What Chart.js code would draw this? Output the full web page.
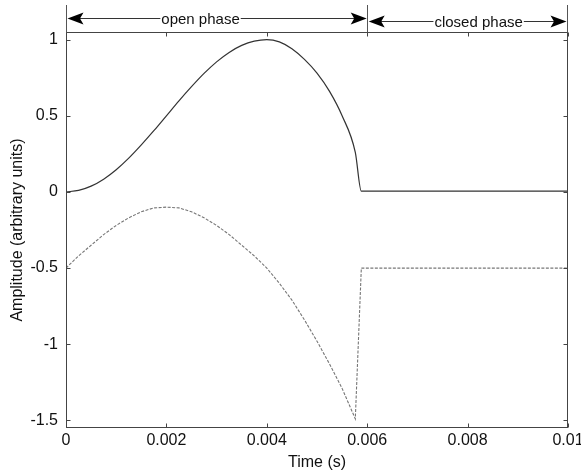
<!DOCTYPE html>
<html>
<head>
<meta charset="utf-8">
<script src="https://cdn.jsdelivr.net/npm/chart.js@4/dist/chart.umd.min.js"></script>
<style>
  html, body { margin: 0; padding: 0; background: #fff; }
  #wrap { width: 581px; height: 473px; position: relative; }
</style>
</head>
<body>
<div id="wrap"><canvas id="c" width="581" height="473"></canvas></div>
<script>
// ---- data ----
const timeS = [0, 0.00025, 0.0005, 0.00075, 0.001, 0.00125, 0.0015, 0.00175, 0.002,
  0.00225, 0.0025, 0.00275, 0.003, 0.00325, 0.0035, 0.00375, 0.004,
  0.00425, 0.0045, 0.00475, 0.005, 0.00525, 0.0055, 0.005763, 0.005883, 0.01];
const flowPulse = [0, 0.01, 0.038, 0.084, 0.146, 0.222, 0.309, 0.402, 0.5,
  0.598, 0.691, 0.778, 0.854, 0.916, 0.962, 0.99, 1.0,
  0.985, 0.94, 0.87, 0.78, 0.66, 0.50, 0.26, 0.005, 0.005];
const derivPulse = [-0.5, -0.42, -0.35, -0.28, -0.22, -0.17, -0.13, -0.105, -0.1,
  -0.105, -0.13, -0.17, -0.22, -0.28, -0.35, -0.42, -0.5,
  -0.6, -0.71, -0.84, -0.98, -1.13, -1.29, -1.49, -0.5, -0.5];
const xTicks = [0, 0.002, 0.004, 0.006, 0.008, 0.01];
const xTickLabels = ['0', '0.002', '0.004', '0.006', '0.008', '0.01'];
const yTicks = [-1.5, -1, -0.5, 0, 0.5, 1];
const yTickLabels = ['-1.5', '-1', '-0.5', '0', '0.5', '1'];
const phaseBounds = [0, 0.006, 0.01];
const phaseNames = ['open phase', 'closed phase'];

const FONT = '"Liberation Sans", Arial, sans-serif';

function arrowHead(ctx, x, y, dir) {
  // dir = -1 pointing left, +1 pointing right
  ctx.beginPath();
  ctx.moveTo(x, y);
  ctx.lineTo(x - dir * 16, y - 6);
  ctx.lineTo(x - dir * 12.5, y);
  ctx.lineTo(x - dir * 16, y + 6);
  ctx.closePath();
  ctx.fill();
}

const decor = {
  id: 'decor',
  afterDraw(chart) {
    const ctx = chart.ctx;
    const a = chart.chartArea;
    const xs = chart.scales.x, ys = chart.scales.y;
    ctx.save();
    // box
    ctx.strokeStyle = '#444';
    ctx.lineWidth = 1;
    const L = Math.round(a.left) + 0.5, R = Math.round(a.right) - 0.5;
    const T = Math.round(a.top) + 0.5, B = Math.round(a.bottom) - 0.5;
    ctx.strokeRect(L, T, R - L, B - T);
    // inward ticks
    ctx.beginPath();
    xTicks.forEach(v => {
      const px = Math.round(xs.getPixelForValue(v)) + 0.5;
      ctx.moveTo(px, B); ctx.lineTo(px, B - 4);
      ctx.moveTo(px, T); ctx.lineTo(px, T + 4);
    });
    yTicks.forEach(v => {
      const py = Math.round(ys.getPixelForValue(v)) + 0.5;
      ctx.moveTo(L, py); ctx.lineTo(L + 4, py);
      ctx.moveTo(R, py); ctx.lineTo(R - 4, py);
    });
    ctx.stroke();

    // phase annotation above the plot
    ctx.strokeStyle = '#555';
    ctx.beginPath();
    phaseBounds.forEach((v, i) => {
      let px = Math.round(xs.getPixelForValue(v)) + 0.5;
      if (i === phaseBounds.length - 1) px = R;
      ctx.moveTo(px, 5); ctx.lineTo(px, T);
    });
    ctx.stroke();

    const rows = [18.5, 21.5];
    const labelAt = [0.00268, 0.00822];
    ctx.font = '15px ' + FONT;
    ctx.textBaseline = 'middle';
    ctx.textAlign = 'center';
    for (let i = 0; i < phaseNames.length; i++) {
      const x0 = xs.getPixelForValue(phaseBounds[i]) + 1.5;
      let x1 = xs.getPixelForValue(phaseBounds[i + 1]) - 0.5;
      if (i === phaseNames.length - 1) x1 = R - 1;
      const y = rows[i];
      const cx = xs.getPixelForValue(labelAt[i]);
      const tw = ctx.measureText(phaseNames[i]).width;
      ctx.strokeStyle = '#333';
      ctx.beginPath();
      ctx.moveTo(x0 + 12, y); ctx.lineTo(cx - tw / 2 - 1, y);
      ctx.moveTo(cx + tw / 2 + 1, y); ctx.lineTo(x1 - 12, y);
      ctx.stroke();
      ctx.fillStyle = '#000';
      arrowHead(ctx, x0, y, -1);
      arrowHead(ctx, x1, y, 1);
      ctx.fillStyle = '#111';
      ctx.fillText(phaseNames[i], cx, y + 1);
    }
    ctx.restore();
  }
};

new Chart(document.getElementById('c'), {
  type: 'line',
  data: {
    datasets: [
      {
        label: 'flow',
        data: timeS.map((t, i) => ({ x: t, y: flowPulse[i] })),
        borderColor: '#333',
        borderWidth: 1.2,
        pointRadius: 0,
        fill: false,
        cubicInterpolationMode: 'monotone'
      },
      {
        label: 'derivative',
        data: timeS.map((t, i) => ({ x: t, y: derivPulse[i] })),
        borderColor: '#777',
        borderWidth: 1.1,
        borderDash: [3, 1.5],
        pointRadius: 0,
        fill: false,
        tension: 0
      }
    ]
  },
  options: {
    responsive: false,
    animation: false,
    events: [],
    layout: { padding: { left: 0, top: 32, right: 13, bottom: 0 } },
    plugins: { legend: { display: false }, tooltip: { enabled: false } },
    scales: {
      x: {
        type: 'linear',
        min: 0, max: 0.01,
        grid: { display: false, drawTicks: false },
        border: { display: false },
        afterBuildTicks: s => { s.ticks = xTicks.map(v => ({ value: v })); },
        afterFit: s => { s.height = 45; s.paddingLeft = 0; s.paddingRight = 0; },
        ticks: {
          autoSkip: false, maxRotation: 0, padding: 3,
          color: '#111',
          font: { family: FONT, size: 16 },
          callback: (v, i) => xTickLabels[i]
        },
        title: {
          display: true, text: 'Time (s)', color: '#111',
          font: { family: FONT, size: 16 },
          padding: { top: 0, bottom: 1 }
        }
      },
      y: {
        type: 'linear',
        min: -1.55, max: 1.05,
        grid: { display: false, drawTicks: false },
        border: { display: false },
        afterBuildTicks: s => { s.ticks = yTicks.map(v => ({ value: v })); },
        afterFit: s => { s.width = 66; s.paddingTop = 0; s.paddingBottom = 0; },
        ticks: {
          autoSkip: false, padding: 8,
          color: '#111',
          font: { family: FONT, size: 16 },
          callback: (v, i) => yTickLabels[i]
        },
        title: {
          display: true, text: 'Amplitude (arbitrary units)', color: '#111',
          font: { family: FONT, size: 16 },
          padding: { top: 8, bottom: 0 }
        }
      }
    }
  },
  plugins: [decor]
});
</script>
</body>
</html>
